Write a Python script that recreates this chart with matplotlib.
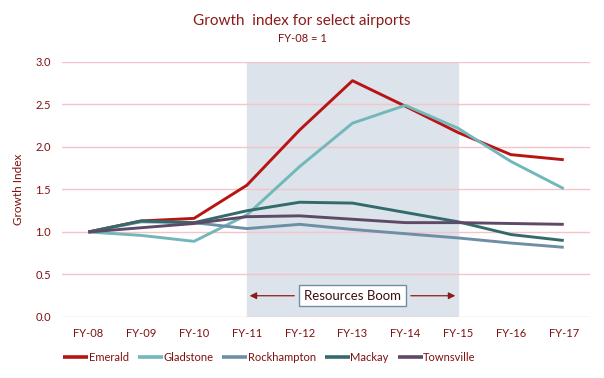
import numpy as np
import matplotlib.pyplot as plt

plt.rcParams['font.family'] = ['Lato', 'DejaVu Sans']

years = ["FY-08", "FY-09", "FY-10", "FY-11", "FY-12", "FY-13", "FY-14", "FY-15", "FY-16", "FY-17"]
emerald = [1.0, 1.13, 1.16, 1.55, 2.2, 2.78, 2.48, 2.17, 1.91, 1.85]
gladstone = [1.0, 0.96, 0.89, 1.2, 1.77, 2.28, 2.49, 2.22, 1.83, 1.51]
rockhampton = [1.0, 1.12, 1.11, 1.04, 1.09, 1.03, 0.98, 0.93, 0.87, 0.82]
mackay = [1.0, 1.13, 1.11, 1.25, 1.35, 1.34, 1.23, 1.12, 0.97, 0.90]
townsville = [1.0, 1.05, 1.10, 1.18, 1.19, 1.15, 1.11, 1.11, 1.10, 1.09]

boom_start = "FY-11"
boom_end = "FY-15"

text_col = "#7F1010"

fig = plt.figure(figsize=(6.04, 3.78), dpi=100)
ax = fig.add_axes([0.1026, 0.1614, 0.8745, 0.6746])

x = np.arange(len(years))
i0, i1 = years.index(boom_start), years.index(boom_end)
ax.axvspan(i0, i1, color="#DCE3EA", zorder=0)

series = [("Emerald", emerald, "#B81414"),
          ("Gladstone", gladstone, "#72B8BA"),
          ("Rockhampton", rockhampton, "#6E8EA6"),
          ("Mackay", mackay, "#336B6C"),
          ("Townsville", townsville, "#5E4A66")]
for name, vals, col in series:
    ax.plot(x, vals, color=col, lw=2.1, label=name, zorder=3,
            solid_joinstyle="round", solid_capstyle="butt")

ax.set_xlim(-0.5, len(years) - 0.5)
ax.set_ylim(0, 3.0)
ax.set_yticks(np.arange(0, 3.01, 0.5))
ax.set_yticklabels([f"{v:.1f}" for v in np.arange(0, 3.01, 0.5)])
ax.set_xticks(x)
ax.set_xticklabels(years)
ax.tick_params(colors=text_col, labelsize=8, length=0, pad=8)
ax.yaxis.grid(True, color="#F4C4CA", lw=1)
ax.set_axisbelow(True)
for s in ax.spines.values():
    s.set_visible(False)
ax.set_ylabel("Growth Index", color=text_col, fontsize=8.5, labelpad=8)

# resources boom annotation
mid = (i0 + i1) / 2
ax.text(mid, 0.25, "Resources Boom", ha="center", va="center", fontsize=9.5,
        color="#3A1010", zorder=5,
        bbox=dict(boxstyle="square,pad=0.35", fc="white", ec="#6E8EA6", lw=1))
ax.annotate("", xy=(i0, 0.25), xytext=(mid - 1.05, 0.25),
            arrowprops=dict(arrowstyle="-|>", color="#8B1A1A", lw=0.9,
                            mutation_scale=10), zorder=4)
ax.annotate("", xy=(i1, 0.25), xytext=(mid + 1.05, 0.25),
            arrowprops=dict(arrowstyle="-|>", color="#8B1A1A", lw=0.9,
                            mutation_scale=10), zorder=4)

fig.text(0.5, 0.944, "Growth  index for select airports", ha="center", va="center",
         fontsize=11, color="#8B1A1A")
fig.text(0.5, 0.897, "FY-08 = 1", ha="center", va="center", fontsize=8, color=text_col)

leg = ax.legend(loc="center left", bbox_to_anchor=(-0.012, -0.16), ncol=5, frameon=False,
                fontsize=8, handlelength=2.25, handletextpad=0.05, columnspacing=0.8,
                borderpad=0.2)
for line in leg.get_lines():
    line.set_linewidth(2.6)
for t in leg.get_texts():
    t.set_color(text_col)

fig.savefig("out.png", dpi=100)
